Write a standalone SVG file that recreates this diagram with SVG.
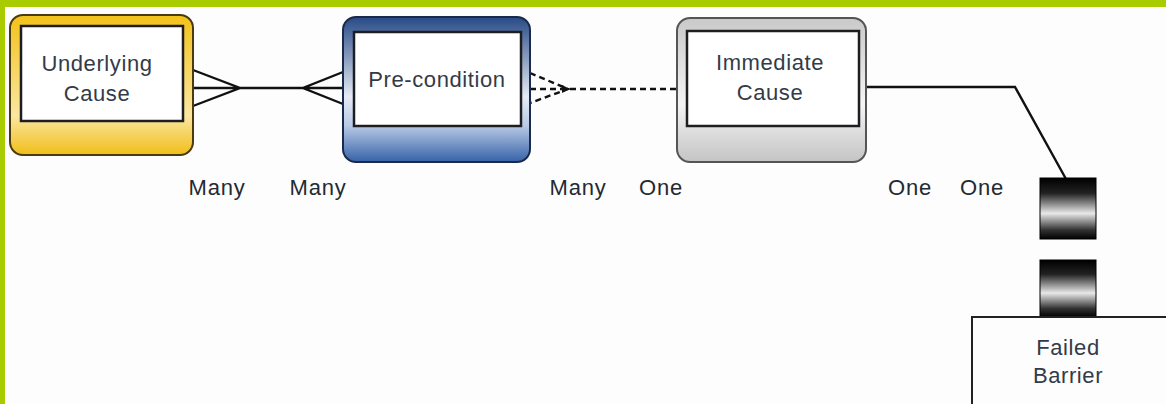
<svg xmlns="http://www.w3.org/2000/svg" width="1166" height="404" viewBox="0 0 1166 404">
  <style>
    .lbl { font-family: "Liberation Sans", Arial, sans-serif; font-size: 22px; letter-spacing: 0.8px; fill: #232a33; text-anchor: middle; }
    .card { font-family: "Liberation Sans", Arial, sans-serif; font-size: 22px; letter-spacing: 0.6px; fill: #333b48; text-anchor: middle; }
    .inner { fill: #ffffff; stroke: #1e1e22; stroke-width: 2.5; }
    .solid { fill: none; stroke: #111; stroke-width: 2.4; }
    .dash { fill: none; stroke: #111; stroke-width: 2.4; stroke-dasharray: 6 4; }
  </style>
  <defs>
    <linearGradient id="gYellow" x1="0" y1="0" x2="0" y2="1">
      <stop offset="0" stop-color="#f2c21a"/>
      <stop offset="0.72" stop-color="#fbe6a0"/>
      <stop offset="1" stop-color="#f0be18"/>
    </linearGradient>
    <linearGradient id="gBlue" x1="0" y1="0" x2="0" y2="1">
      <stop offset="0" stop-color="#284a86"/>
      <stop offset="0.55" stop-color="#e6ebf5"/>
      <stop offset="0.75" stop-color="#b9c9e6"/>
      <stop offset="1" stop-color="#3562a8"/>
    </linearGradient>
    <linearGradient id="gGray" x1="0" y1="0" x2="0" y2="1">
      <stop offset="0" stop-color="#c9c9c9"/>
      <stop offset="0.6" stop-color="#f4f4f4"/>
      <stop offset="1" stop-color="#c4c4c4"/>
    </linearGradient>
    <linearGradient id="gBar" x1="0" y1="0" x2="0" y2="1">
      <stop offset="0" stop-color="#000"/>
      <stop offset="0.25" stop-color="#222"/>
      <stop offset="0.58" stop-color="#e8e8e8"/>
      <stop offset="0.85" stop-color="#333"/>
      <stop offset="1" stop-color="#000"/>
    </linearGradient>
  </defs>

  <!-- page background and frame -->
  <rect x="0" y="0" width="1166" height="404" fill="#fdfdfd"/>
  <rect x="0" y="0" width="1166" height="7" fill="#a8cc00"/>
  <rect x="0" y="0" width="5" height="404" fill="#a8cc00"/>

  <g id="connectors">
    <!-- Underlying Cause to Pre-condition: many to many -->
    <path class="solid" d="M193 70 L240 88 L193 106 M193 88 H343 M343 72 L303 88 L343 104"/>
    <!-- Pre-condition to Immediate Cause: many to one (dashed) -->
    <path class="dash" d="M530 73 L568 89 L530 103 M530 89 H677"/>
    <polygon points="562,85 570,89 562,93" fill="#111"/>
    <!-- Immediate Cause to Failed Barrier -->
    <path class="solid" d="M866 87 H1015 L1066 179"/>
  </g>

  <g id="underlying-cause">
    <rect x="10" y="15" width="183" height="140" rx="13" fill="url(#gYellow)" stroke="#4a3a10" stroke-width="2"/>
    <rect class="inner" x="21" y="26" width="162" height="95"/>
    <text class="card" x="97" y="71">Underlying</text>
    <text class="card" x="97" y="101">Cause</text>
  </g>

  <g id="pre-condition">
    <rect x="343" y="17" width="187" height="145" rx="13" fill="url(#gBlue)" stroke="#1a2a4a" stroke-width="2"/>
    <rect class="inner" x="354" y="32" width="167" height="94"/>
    <text class="card" x="437" y="87">Pre-condition</text>
  </g>

  <g id="immediate-cause">
    <rect x="677" y="18" width="189" height="144" rx="13" fill="url(#gGray)" stroke="#555" stroke-width="2"/>
    <rect class="inner" x="687" y="31" width="172" height="95"/>
    <text class="card" x="770" y="70">Immediate</text>
    <text class="card" x="770" y="100">Cause</text>
  </g>

  <g id="failed-barrier">
    <rect x="1040" y="178" width="56" height="61" fill="url(#gBar)" stroke="#000" stroke-width="1"/>
    <rect x="1040" y="260" width="56" height="57" fill="url(#gBar)" stroke="#000" stroke-width="1"/>
    <rect x="972" y="317" width="200" height="100" fill="#fdfdfd" stroke="#222" stroke-width="2"/>
    <text class="card" x="1068" y="355">Failed</text>
    <text class="card" x="1068" y="383">Barrier</text>
  </g>

  <g id="cardinality-labels">
    <text class="lbl" x="217" y="195">Many</text>
    <text class="lbl" x="318" y="195">Many</text>
    <text class="lbl" x="578" y="195">Many</text>
    <text class="lbl" x="661" y="195">One</text>
    <text class="lbl" x="910" y="195">One</text>
    <text class="lbl" x="982" y="195">One</text>
  </g>
</svg>
